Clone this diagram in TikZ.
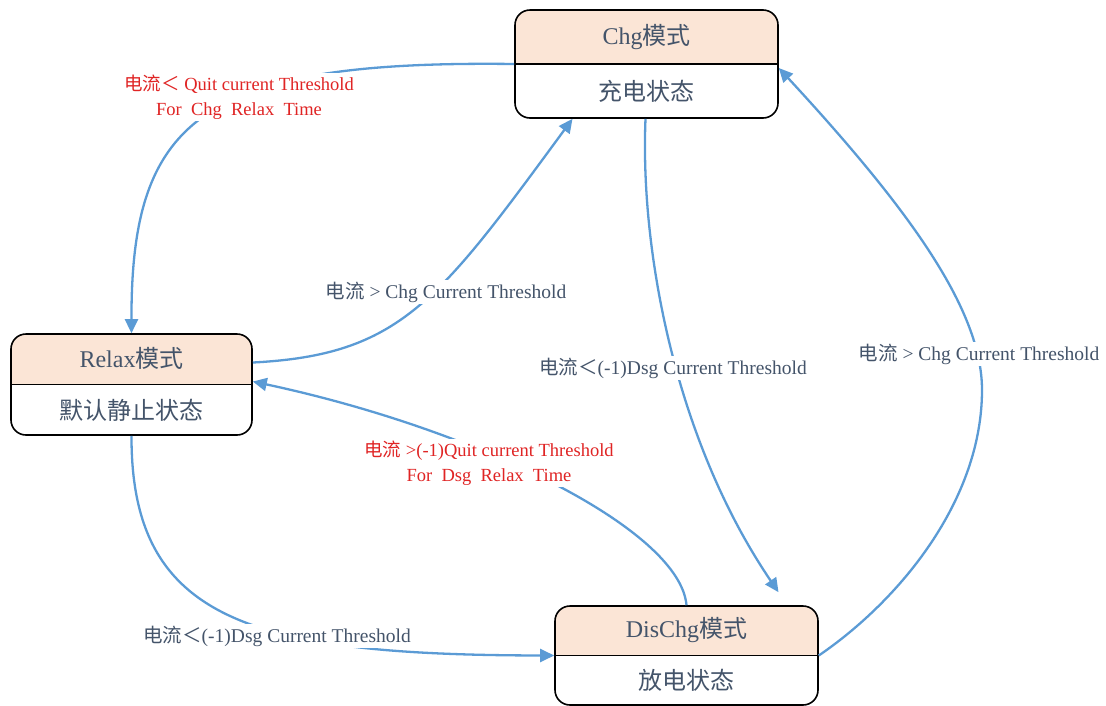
\documentclass[tikz,border=0pt]{standalone}
\usepackage{fontspec}
\setmainfont{Liberation Serif}
\newfontfamily\cjk{Noto Sans CJK SC}
\usepackage{xcolor}
\usetikzlibrary{arrows.meta}
\usetikzlibrary{calc}
\definecolor{peche}{HTML}{FBE5D6}
\definecolor{bleu}{HTML}{5B9BD5}
\definecolor{texte}{HTML}{44546A}
\definecolor{rouge}{HTML}{E02424}

\tikzset{
  etat/.style={draw=black, line width=1.6pt, rounded corners=15pt, fill=white,
    path picture={
      \fill[peche, sharp corners] (path picture bounding box.north west) rectangle (path picture bounding box.east);
      \draw[line width=1.6pt, sharp corners] (path picture bounding box.west) -- (path picture bounding box.east);}},
  titre/.style={text=texte, font=\fontsize{24}{28}\selectfont},
  fleche/.style={draw=bleu, line width=2.3pt, -{Triangle[length=14pt,width=13pt]}},
  etiq/.style={fill=white, inner sep=1.5pt, text=texte, font=\fontsize{19.5}{25}\selectfont, align=center},
  etiqrouge/.style={etiq, text=rouge, font=\fontsize{18.5}{25}\selectfont},
}

\begin{document}
\begin{tikzpicture}[x=1pt, y=-1pt]
    \useasboundingbox (0,0) rectangle (1106,705);

    % Etats
    \node[etat, minimum width=263pt, minimum height=108pt] (chg) at (646.5,64) {};
    \node[etat, minimum width=241pt, minimum height=101pt] (relax) at (131.5,384.5) {};
    \node[etat, minimum width=263pt, minimum height=99pt] (dis) at (686.5,655.5) {};

    % Textes des etats
    \node[titre] (chg-titre) at ($(chg.north)!0.5!(chg.center)$) {Chg{\cjk 模式}};
    \node[titre] (chg-sous) at ($(chg.south)!0.5!(chg.center)$) {\cjk 充电状态};
    \node[titre] (relax-titre) at ($(relax.north)!0.5!(relax.center)$) {Relax{\cjk 模式}};
    \node[titre] (relax-sous) at ($(relax.south)!0.5!(relax.center)$) {\cjk 默认静止状态};
    \node[titre] (dis-titre) at ($(dis.north)!0.5!(dis.center)$) {DisChg{\cjk 模式}};
    \node[titre] (dis-sous) at ($(dis.south)!0.5!(dis.center)$) {\cjk 放电状态};

    % Transitions
    \draw[fleche] (chg.west) .. controls (200,60) and (131,120) .. (relax.north);
    \draw[fleche] ($(relax.east)+(0,-22)$) .. controls (400,355) and (438,302) .. ($(chg.south)+(-74,0)$);
    \draw[fleche] ($(chg.south)+(-1,0)$) .. controls (640,250) and (675,440) .. ($(dis.north)+(92,-13)$);
    \draw[fleche] (dis.east) .. controls (900,600) and (982,500) .. (982,390)
        .. controls (982,310) and (910,210) .. ($(chg.east)+(0,4)$);
    \draw[fleche] (dis.north) .. controls (680,530) and (480,430) .. ($(relax.east)+(0,-3)$);
    \draw[fleche] (relax.south) .. controls (131,620) and (250,655) .. (dis.west);

    % Conditions
    \node[etiqrouge] (cond-chg-relax) at (239,97) {{\cjk 电流＜} Quit current Threshold\\For\ \ Chg\ \ Relax\ \ Time};
    \node[etiq] (cond-relax-chg) at (446,292) {{\cjk 电流} > Chg Current Threshold};
    \node[etiq] (cond-chg-dis) at (673,368) {{\cjk 电流＜}(-1)Dsg Current Threshold};
    \node[etiq] (cond-dis-chg) at (979,354) {{\cjk 电流} > Chg Current Threshold};
    \node[etiqrouge] (cond-dis-relax) at (489,463) {{\cjk 电流} >(-1)Quit current Threshold\\For\ \ Dsg\ \ Relax\ \ Time};
    \node[etiq] (cond-relax-dis) at (277,636) {{\cjk 电流＜}(-1)Dsg Current Threshold};
\end{tikzpicture}
\end{document}
